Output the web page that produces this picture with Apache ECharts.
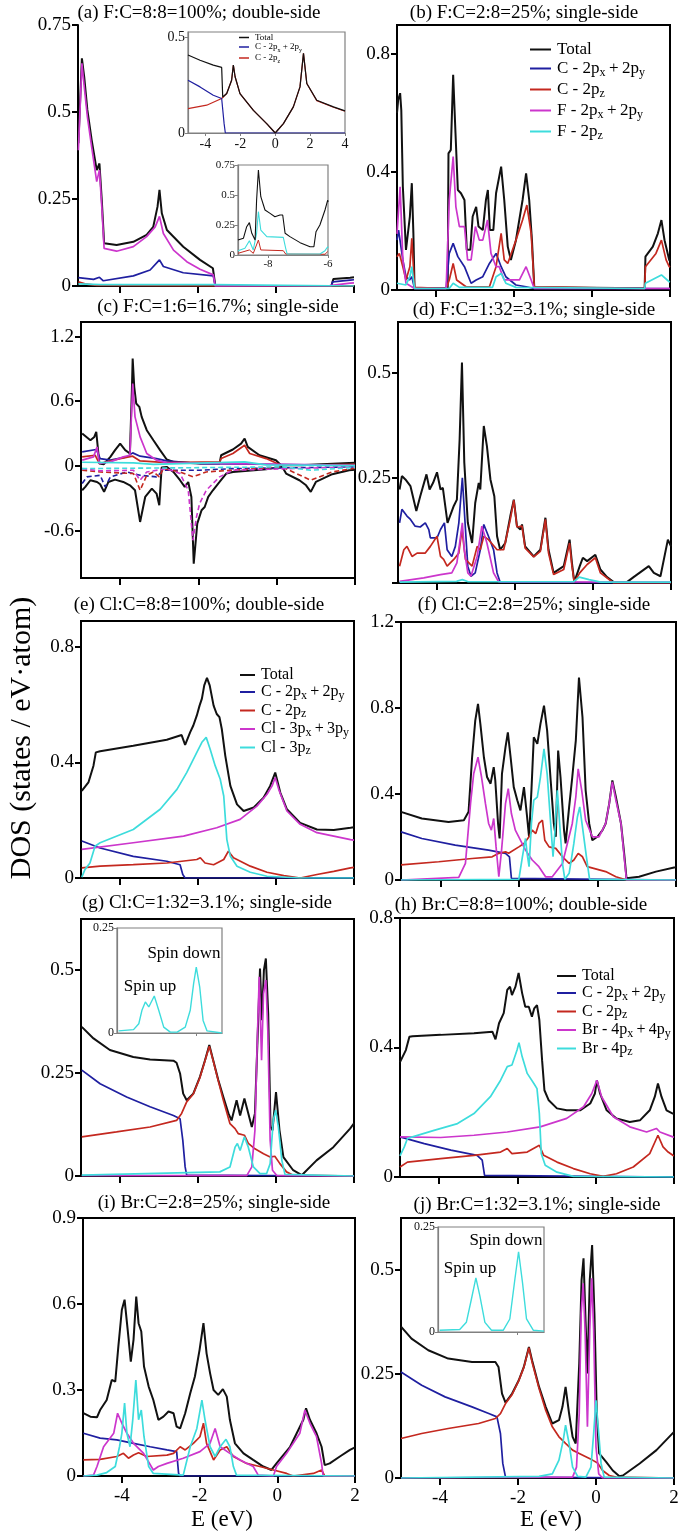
<!DOCTYPE html>
<html><head><meta charset="utf-8">
<script src="https://cdn.jsdelivr.net/npm/echarts@6/dist/echarts.min.js"></script>
<style>html,body{margin:0;padding:0;background:#fff}#c{width:685px;height:1537px}</style>
</head><body><div id="c"></div>
<script>
// ---------------- data ----------------
const TITLES = ['(a) F:C=8:8=100%; double-side','(b) F:C=2:8=25%; single-side','(c) F:C=1:6=16.7%; single-side','(d) F:C=1:32=3.1%; single-side','(e) Cl:C=8:8=100%; double-side','(f) Cl:C=2:8=25%; single-side','(g) Cl:C=1:32=3.1%; single-side','(h) Br:C=8:8=100%; double-side','(i) Br:C=2:8=25%; single-side','(j) Br:C=1:32=3.1%; single-side'];
const Y_TITLE = 'DOS (states / eV\u00B7atom)';
const X_TITLE = 'E (eV)';
const SPIN_UP = 'Spin up', SPIN_DOWN = 'Spin down';
const X_TICKS = [-4,-2,0,2];
const A_YT = [0,0.25,0.5,0.75];
const B_YT = [0,0.4,0.8];
const C_YT = [-0.6,0,0.6,1.2];
const D_YT = [0,0.25,0.5], D_YL = [0.25,0.5];
const E_YT = [0,0.4,0.8];
const F_YT = [0,0.4,0.8,1.2];
const G_YT = [0,0.25,0.5];
const H_YT = [0,0.4,0.8];
const I_YT = [0,0.3,0.6,0.9];
const J_YT = [0,0.25,0.5];
const A1_XT = [-4,-2,0,2,4], A1_YT = [0,0.5];
const A2_XT = [-8,-6], A2_YT = [0,0.25,0.5,0.75];
const IN_YT = [0,0.25], IN_XT = [0];
const LEG_B = ['Total','C - 2p_x\u2009+\u20092p_y','C - 2p_z','F - 2p_x\u2009+\u20092p_y','F - 2p_z'];
const LEG_E = ['Total','C - 2p_x\u2009+\u20092p_y','C - 2p_z','Cl - 3p_x\u2009+\u20093p_y','Cl - 3p_z'];
const LEG_H = ['Total','C - 2p_x\u2009+\u20092p_y','C - 2p_z','Br - 4p_x\u2009+\u20094p_y','Br - 4p_z'];
const LEG_A1 = ['Total','C - 2p_x + 2p_y','C - 2p_z'];

// (a)
const a_tot=[[-5.07,0.41],[-4.98,0.654],[-4.92,0.60],[-4.84,0.506],[-4.73,0.42],[-4.60,0.333],[-4.53,0.352],[-4.47,0.247],[-4.41,0.123],[-4.09,0.118],[-3.66,0.127],[-3.32,0.147],[-3.15,0.17],[-3.04,0.228],[-2.99,0.276],[-2.93,0.209],[-2.80,0.161],[-2.38,0.113],[-1.95,0.075],[-1.62,0.051],[-1.56,0.003],[-1.44,0],[1.42,0],[1.47,0.02],[1.9,0.024],[2.0,0.025]];
const a_blue=[[-5.07,0.024],[-4.68,0.019],[-4.53,0.025],[-4.43,0.015],[-3.66,0.029],[-3.23,0.046],[-2.99,0.075],[-2.89,0.056],[-2.38,0.038],[-1.61,0.029],[-1.56,0],[1.42,0],[1.45,0.012],[1.9,0.017],[2.0,0.018]];
const a_red=[[-5.07,0.012],[-4.9,0.006],[-4.6,0.002],[-1.55,0],[2.0,0]];
const a_mag=[[-5.07,0.39],[-4.98,0.64],[-4.92,0.573],[-4.84,0.487],[-4.73,0.40],[-4.60,0.30],[-4.53,0.333],[-4.47,0.228],[-4.41,0.108],[-4.09,0.10],[-3.66,0.113],[-3.32,0.142],[-3.10,0.17],[-2.99,0.20],[-2.89,0.151],[-2.63,0.103],[-2.29,0.07],[-1.95,0.048],[-1.61,0.032],[-1.56,0],[1.38,0.001],[1.9,0.008],[2.0,0.009]];
const a_cyan=[[-5.07,0.006],[-4.5,0.004],[-1.6,0.004],[-1.55,0],[2.0,0]];
// (a) insets
const a1_tot=[[-5,0.409],[-4.31,0.382],[-3.55,0.356],[-3.07,0.344],[-3.01,0.189],[-2.78,0.207],[-2.5,0.277],[-2.4,0.356],[-2.3,0.295],[-2.02,0.207],[-1.25,0.119],[-0.49,0.049],[0,0],[0.47,0.049],[1.04,0.137],[1.42,0.242],[1.62,0.418],[1.81,0.26],[2.38,0.172],[3.34,0.137],[4,0.116]];
const a1_blue=[[-5,0.277],[-4.31,0.242],[-3.55,0.198],[-3.07,0.181],[-2.93,0.049],[-2.86,0],[4,0]];
const a1_red=[[-5,0.128],[-3.93,0.146],[-3.07,0.181],[-2.78,0.207],[-2.5,0.277],[-2.4,0.356],[-2.3,0.295],[-2.02,0.207],[-1.25,0.119],[-0.49,0.049],[0,0],[0.47,0.049],[1.04,0.137],[1.42,0.242],[1.62,0.418],[1.81,0.26],[2.38,0.17],[3.34,0.135],[4,0.114]];
const a2_tot=[[-9,0.125],[-8.82,0.139],[-8.71,0.236],[-8.62,0.27],[-8.54,0.181],[-8.43,0.125],[-8.38,0.458],[-8.32,0.708],[-8.24,0.486],[-8.10,0.375],[-7.93,0.347],[-7.77,0.319],[-7.60,0.333],[-7.51,0.333],[-7.43,0.181],[-7.27,0.153],[-6.93,0.103],[-6.60,0.069],[-6.47,0.069],[-6.40,0.194],[-6.27,0.25],[-6.10,0.375],[-6.01,0.458],[-6.0,0.44]];
const a2_cyan=[[-9,0.036],[-8.77,0.056],[-8.62,0.119],[-8.49,0.042],[-8.38,0.181],[-8.32,0.361],[-8.24,0.208],[-8.04,0.153],[-7.49,0.147],[-7.41,0.056],[-7.36,0.008],[-6.27,0.008],[-6.10,0.036],[-6.01,0.069],[-6.0,0.06]];
const a2_red=[[-9,0.014],[-8.62,0.042],[-8.49,0.014],[-8.32,0.125],[-8.24,0.042],[-7.49,0.036],[-7.41,0.008],[-6.10,0.006],[-6.01,0.028],[-6.0,0.026]];
// (b)
const b_tot=[[-5.0,0.6],[-4.97,0.644],[-4.92,0.667],[-4.89,0.61],[-4.85,0.35],[-4.77,0.136],[-4.72,0.13],[-4.67,0.249],[-4.62,0.362],[-4.58,0.192],[-4.55,0.006],[-3.70,0.006],[-3.68,0.463],[-3.62,0.475],[-3.56,0.729],[-3.50,0.531],[-3.44,0.339],[-3.36,0.328],[-3.27,0.305],[-3.21,0.136],[-3.12,0.136],[-3.06,0.249],[-2.97,0.282],[-2.91,0.215],[-2.80,0.203],[-2.72,0.305],[-2.67,0.339],[-2.62,0.203],[-2.53,0.203],[-2.46,0.328],[-2.33,0.418],[-2.25,0.305],[-2.16,0.147],[-2.08,0.102],[-1.95,0.169],[-1.78,0.305],[-1.69,0.395],[-1.61,0.305],[-1.54,0.169],[-1.48,0.009],[-1.44,0.006],[1.35,0.006],[1.37,0.113],[1.56,0.147],[1.69,0.192],[1.78,0.237],[1.86,0.169],[1.98,0.102],[2.0,0.098]];
const b_blue=[[-5.0,0.169],[-4.96,0.203],[-4.85,0.102],[-4.77,0.045],[-4.68,0.034],[-4.62,0.045],[-4.55,0.005],[-3.74,0.005],[-3.66,0.124],[-3.56,0.158],[-3.44,0.113],[-3.27,0.079],[-3.10,0.023],[-2.97,0.034],[-2.80,0.045],[-2.63,0.09],[-2.46,0.124],[-2.33,0.079],[-2.21,0.045],[-1.95,0.017],[-1.69,0.011],[-1.48,0.005],[2.0,0.005]];
const b_red=[[-5.0,0.113],[-4.94,0.124],[-4.85,0.079],[-4.77,0.034],[-4.67,0.079],[-4.62,0.175],[-4.55,0.009],[-3.74,0.005],[-3.66,0.034],[-3.56,0.09],[-3.47,0.034],[-3.23,0.011],[-2.63,0.011],[-2.46,0.079],[-2.33,0.192],[-2.25,0.102],[-2.16,0.09],[-1.95,0.169],[-1.78,0.237],[-1.67,0.288],[-1.56,0.192],[-1.48,0.011],[1.35,0.005],[1.37,0.079],[1.64,0.124],[1.78,0.169],[1.90,0.102],[1.98,0.079],[2.0,0.077]];
const b_mag=[[-5.0,0.19],[-4.92,0.35],[-4.85,0.102],[-4.77,0.023],[-4.55,0.005],[-3.74,0.005],[-3.66,0.305],[-3.56,0.452],[-3.49,0.282],[-3.40,0.215],[-3.27,0.215],[-3.19,0.102],[-3.10,0.102],[-2.99,0.215],[-2.89,0.169],[-2.80,0.169],[-2.68,0.237],[-2.59,0.124],[-2.46,0.079],[-2.38,0.079],[-2.25,0.034],[-1.86,0.034],[-1.69,0.079],[-1.56,0.034],[-1.48,0.005],[2.0,0.005]];
const b_cyan=[[-5.0,0.023],[-4.77,0.017],[-4.67,0.045],[-4.62,0.079],[-4.55,0.005],[-3.66,0.005],[-3.56,0.023],[-3.40,0.009],[-2.55,0.009],[-2.46,0.045],[-2.33,0.056],[-2.21,0.023],[-1.95,0.009],[1.35,0.005],[1.37,0.023],[1.78,0.051],[1.98,0.028],[2.0,0.027]];
// (c) spin up (solid) and spin down (dashed)
const c_tot_up=[[-4.97,0.30],[-4.76,0.238],[-4.66,0.269],[-4.61,0.316],[-4.53,0.022],[-4.42,0.015],[-4.25,0.084],[-4.13,0.146],[-4.0,0.207],[-3.87,0.146],[-3.75,0.115],[-3.70,0.703],[-3.68,0.997],[-3.64,0.734],[-3.59,0.579],[-3.51,0.548],[-3.45,0.455],[-3.41,0.471],[-3.32,0.331],[-3.15,0.238],[-2.98,0.146],[-2.81,0.059],[-2.64,0.037],[-1.97,0.022],[-1.46,0.022],[-1.42,0.099],[-1.12,0.152],[-0.91,0.207],[-0.82,0.254],[-0.74,0.176],[-0.44,0.099],[-0.02,0.053],[0.11,0.006],[0.58,0.006],[1.85,0.028],[2.0,0.03]];
const c_blue_up=[[-4.97,0.13],[-4.61,0.152],[-4.51,0.068],[-4.25,0.053],[-3.83,0.084],[-3.68,0.121],[-3.49,0.09],[-3.07,0.068],[-2.81,0.046],[-1.97,0.022],[2.0,0.006]];
const c_red_up=[[-4.97,0.084],[-4.64,0.099],[-4.53,0.022],[-4.0,0.068],[-3.68,0.09],[-3.49,0.046],[-2.81,0.031],[-1.46,0.037],[-1.42,0.068],[-1.12,0.115],[-0.82,0.192],[-0.69,0.115],[-0.27,0.068],[0.11,0.006],[2.0,0.015]];
const c_mag_up=[[-4.97,0.053],[-4.68,0.084],[-4.59,0.176],[-4.53,0.022],[-4.25,0.037],[-3.92,0.084],[-3.75,0.099],[-3.68,0.765],[-3.62,0.455],[-3.49,0.269],[-3.32,0.115],[-3.07,0.053],[-2.81,0.028],[2.0,0.006]];
const c_cyan_up=[[-4.97,0.034],[-3.66,0.028],[-3.15,0.015],[-0.82,0.037],[-0.27,0.009],[2.0,0.003]];
const c_tot_dn=[[-4.97,-0.226],[-4.89,-0.195],[-4.76,-0.133],[-4.59,-0.149],[-4.51,-0.170],[-4.41,-0.241],[-4.30,-0.149],[-4.13,-0.127],[-3.92,-0.149],[-3.75,-0.18],[-3.62,-0.226],[-3.49,-0.52],[-3.36,-0.288],[-3.19,-0.211],[-3.07,-0.257],[-3.0,-0.365],[-2.94,-0.015],[-2.81,-0.009],[-2.64,-0.056],[-2.47,-0.133],[-2.35,-0.195],[-2.26,-0.149],[-2.18,-0.288],[-2.12,-0.907],[-2.03,-0.536],[-1.92,-0.412],[-1.84,-0.381],[-1.75,-0.288],[-1.63,-0.226],[-1.46,-0.149],[-1.29,-0.071],[-1.12,-0.056],[-0.27,-0.031],[0.14,-0.009],[0.24,-0.071],[0.58,-0.133],[0.75,-0.18],[0.87,-0.241],[1.0,-0.149],[1.42,-0.077],[1.85,-0.04],[2.0,-0.036]];
const c_blue_dn=[[-4.97,-0.164],[-4.85,-0.102],[-4.51,-0.087],[-4.38,-0.195],[-4.25,-0.102],[-3.83,-0.056],[-3.49,-0.087],[-3.07,-0.102],[-2.90,-0.04],[-1.97,-0.04],[-1.12,-0.025],[2.0,-0.009]];
const c_red_dn=[[-4.97,-0.04],[-4.51,-0.056],[-3.66,-0.071],[-3.49,-0.226],[-3.32,-0.087],[-3.15,-0.056],[-3.0,-0.102],[-2.90,-0.025],[-2.47,-0.056],[-2.14,-0.102],[-1.80,-0.056],[-1.12,-0.04],[0.14,-0.009],[0.32,-0.04],[0.87,-0.133],[1.42,-0.056],[2.0,-0.022]];
const c_mag_dn=[[-4.97,-0.025],[-4.51,-0.046],[-3.66,-0.04],[-3.49,-0.133],[-3.32,-0.056],[-2.81,-0.025],[-2.47,-0.071],[-2.26,-0.226],[-2.14,-0.69],[-2.05,-0.474],[-1.97,-0.35],[-1.80,-0.226],[-1.46,-0.102],[-1.12,-0.04],[2.0,-0.009]];
const c_cyan_dn=[[-4.97,-0.025],[-2.81,-0.019],[0.15,-0.009],[0.87,-0.04],[2.0,-0.015]];
// (d)
const d_tot=[[-4.96,0.222],[-4.90,0.254],[-4.81,0.246],[-4.68,0.230],[-4.53,0.171],[-4.43,0.206],[-4.27,0.258],[-4.19,0.222],[-4.10,0.238],[-4.0,0.263],[-3.91,0.222],[-3.85,0.226],[-3.81,0.198],[-3.73,0.143],[-3.57,0.183],[-3.49,0.198],[-3.42,0.341],[-3.36,0.524],[-3.30,0.286],[-3.21,0.143],[-3.10,0.095],[-3.02,0.19],[-2.93,0.238],[-2.89,0.222],[-2.80,0.373],[-2.72,0.325],[-2.63,0.246],[-2.53,0.206],[-2.46,0.111],[-2.38,0.079],[-2.25,0.095],[-2.12,0.159],[-2.03,0.198],[-1.95,0.135],[-1.86,0.127],[-1.82,0.139],[-1.74,0.087],[-1.52,0.063],[-1.35,0.079],[-1.22,0.155],[-1.14,0.079],[-1.01,0.024],[-0.75,0.04],[-0.60,0.103],[-0.54,0.048],[-0.48,0.002],[-0.34,0.04],[-0.26,0.06],[-0.15,0.052],[0.06,0.067],[0.19,0.032],[0.36,0.014],[0.53,0.002],[0.87,0.002],[1.04,0.014],[1.43,0.04],[1.56,0.024],[1.73,0.016],[1.92,0.103],[2.0,0.087]];
const d_blue=[[-4.96,0.143],[-4.90,0.175],[-4.77,0.159],[-4.68,0.151],[-4.56,0.135],[-4.43,0.133],[-4.30,0.143],[-4.21,0.127],[-4.17,0.107],[-4.0,0.107],[-3.91,0.127],[-3.81,0.143],[-3.74,0.079],[-3.62,0.063],[-3.53,0.087],[-3.44,0.143],[-3.35,0.25],[-3.27,0.127],[-3.21,0.04],[-3.13,0.016],[-3.02,0.024],[-2.89,0.079],[-2.80,0.139],[-2.68,0.111],[-2.55,0.079],[-2.46,0.024],[-2.38,0.002],[2.0,0]];
const d_red=[[-4.96,0.04],[-4.85,0.079],[-4.77,0.087],[-4.64,0.063],[-4.51,0.071],[-4.30,0.071],[-4.17,0.087],[-4.0,0.111],[-3.91,0.063],[-3.83,0.056],[-3.74,0.04],[-3.57,0.056],[-3.44,0.071],[-3.36,0.127],[-3.27,0.056],[-3.10,0.04],[-2.97,0.087],[-2.89,0.079],[-2.80,0.111],[-2.68,0.103],[-2.46,0.079],[-2.29,0.079],[-2.12,0.151],[-2.03,0.197],[-1.95,0.133],[-1.82,0.135],[-1.74,0.083],[-1.52,0.062],[-1.35,0.075],[-1.22,0.151],[-1.14,0.071],[-1.01,0.02],[-0.75,0.032],[-0.60,0.095],[-0.54,0.04],[-0.48,0.002],[-0.34,0.024],[-0.15,0.044],[0.06,0.06],[0.19,0.024],[0.53,0],[2.0,0]];
const d_mag=[[-4.96,0.004],[-4.34,0.012],[-3.91,0.02],[-3.62,0.024],[-3.49,0.048],[-3.42,0.095],[-3.35,0.143],[-3.30,0.079],[-3.21,0.024],[-3.13,0.016],[-2.97,0.063],[-2.85,0.135],[-2.72,0.095],[-2.55,0.024],[-2.42,0.003],[2.0,0.002]];
const d_cyan=[[-4.96,0.002],[-3.5,0.004],[-3.35,0.008],[-3.2,0.003],[-0.5,0.003],[-0.35,0.014],[-0.1,0.008],[0.2,0.002],[2.0,0.002]];
// (e)
const e_tot=[[-4.98,0.302],[-4.81,0.331],[-4.68,0.389],[-4.62,0.435],[-4.51,0.439],[-3.66,0.458],[-2.80,0.479],[-2.42,0.495],[-2.33,0.461],[-2.20,0.505],[-2.12,0.528],[-2.03,0.563],[-1.96,0.597],[-1.90,0.621],[-1.84,0.667],[-1.77,0.693],[-1.70,0.667],[-1.60,0.597],[-1.52,0.568],[-1.45,0.557],[-1.39,0.516],[-1.30,0.423],[-1.17,0.319],[-1.0,0.255],[-0.83,0.232],[-0.57,0.244],[-0.32,0.278],[-0.15,0.319],[-0.02,0.365],[0.11,0.296],[0.28,0.238],[0.62,0.191],[1.05,0.168],[1.48,0.166],[1.91,0.174],[2.0,0.176]];
const e_blue=[[-4.98,0.128],[-4.51,0.104],[-3.66,0.075],[-2.80,0.058],[-2.46,0.046],[-2.39,0.012],[-2.33,0],[2.0,0]];
const e_red=[[-4.98,0.035],[-4.51,0.041],[-3.66,0.046],[-2.80,0.052],[-2.03,0.064],[-1.94,0.07],[-1.82,0.052],[-1.60,0.046],[-1.34,0.064],[-1.22,0.093],[-1.09,0.07],[-0.66,0.041],[-0.23,0.02],[0.20,0.008],[0.62,0],[1.05,0.012],[1.48,0.023],[1.91,0.035],[2.0,0.037]];
const e_mag=[[-4.98,0.099],[-3.66,0.122],[-2.37,0.145],[-1.52,0.174],[-0.92,0.203],[-0.49,0.249],[-0.23,0.29],[-0.10,0.319],[-0.02,0.348],[0.07,0.307],[0.28,0.232],[0.62,0.186],[1.05,0.157],[1.91,0.133],[2.0,0.131]];
const e_cyan=[[-4.98,0.003],[-4.90,0.029],[-4.77,0.052],[-4.64,0.11],[-4.51,0.122],[-3.66,0.168],[-2.97,0.238],[-2.54,0.307],[-2.29,0.365],[-2.03,0.435],[-1.90,0.47],[-1.79,0.487],[-1.69,0.447],[-1.56,0.389],[-1.43,0.342],[-1.34,0.284],[-1.26,0.133],[-1.17,0.075],[-1.0,0.041],[-0.66,0.02],[-0.23,0.006],[0.62,0],[2.0,0]];
// (f)
const f_tot=[[-5.0,0.317],[-4.47,0.286],[-3.79,0.27],[-3.40,0.278],[-3.28,0.317],[-3.19,0.571],[-3.11,0.741],[-3.04,0.819],[-2.98,0.726],[-2.89,0.571],[-2.81,0.479],[-2.72,0.448],[-2.64,0.525],[-2.60,0.463],[-2.53,0.263],[-2.49,0.193],[-2.43,0.494],[-2.34,0.618],[-2.28,0.687],[-2.21,0.571],[-2.13,0.432],[-2.04,0.371],[-1.96,0.324],[-1.87,0.432],[-1.83,0.44],[-1.79,0.293],[-1.74,0.201],[-1.68,0.417],[-1.62,0.664],[-1.53,0.633],[-1.45,0.726],[-1.36,0.811],[-1.28,0.695],[-1.19,0.463],[-1.11,0.263],[-1.06,0.201],[-1.0,0.602],[-0.94,0.479],[-0.85,0.232],[-0.81,0.17],[-0.72,0.34],[-0.64,0.479],[-0.55,0.649],[-0.47,0.942],[-0.38,0.757],[-0.30,0.417],[-0.21,0.263],[-0.13,0.185],[0.0,0.201],[0.13,0.232],[0.21,0.263],[0.30,0.355],[0.38,0.463],[0.47,0.386],[0.60,0.263],[0.68,0.124],[0.74,0.008],[1.06,0.015],[1.49,0.039],[1.98,0.059],[2.0,0.06]];
const f_blue=[[-5.0,0.224],[-4.47,0.193],[-3.62,0.162],[-2.77,0.139],[-2.34,0.124],[-2.24,0.108],[-2.19,0.008],[-2.15,0],[2.0,0]];
const f_red=[[-5.0,0.07],[-4.04,0.085],[-3.19,0.1],[-2.68,0.108],[-2.51,0.124],[-2.34,0.131],[-2.26,0.124],[-2.0,0.154],[-1.87,0.17],[-1.74,0.201],[-1.66,0.232],[-1.57,0.216],[-1.49,0.263],[-1.40,0.278],[-1.34,0.185],[-1.23,0.154],[-1.06,0.147],[-0.89,0.108],[-0.72,0.077],[-0.60,0.093],[-0.49,0.124],[-0.38,0.108],[-0.26,0.062],[0.21,0.039],[0.47,0.015],[0.74,0],[2.0,0]];
const f_mag=[[-5.0,0],[-3.53,0.012],[-3.36,0.077],[-3.23,0.355],[-3.15,0.494],[-3.04,0.571],[-2.95,0.479],[-2.85,0.355],[-2.77,0.263],[-2.70,0.232],[-2.64,0.286],[-2.58,0.154],[-2.51,0.015],[-2.44,0.139],[-2.34,0.355],[-2.27,0.425],[-2.19,0.309],[-2.09,0.232],[-1.96,0.185],[-1.83,0.139],[-1.66,0.093],[-1.49,0.062],[-1.32,0.015],[-1.15,0.015],[-0.89,0.077],[-0.64,0.263],[-0.55,0.386],[-0.49,0.517],[-0.40,0.417],[-0.30,0.278],[-0.13,0.201],[0.04,0.201],[0.21,0.263],[0.30,0.355],[0.38,0.456],[0.47,0.371],[0.60,0.263],[0.68,0.108],[0.74,0],[2.0,0]];
const f_cyan=[[-5.0,0],[-2.0,0.003],[-1.91,0.108],[-1.83,0.193],[-1.79,0.124],[-1.74,0.062],[-1.68,0.263],[-1.62,0.371],[-1.53,0.386],[-1.45,0.479],[-1.36,0.61],[-1.28,0.494],[-1.19,0.263],[-1.13,0.108],[-1.08,0.232],[-1.02,0.417],[-0.95,0.232],[-0.89,0.077],[-0.83,0.003],[-0.72,0.031],[-0.60,0.17],[-0.51,0.293],[-0.45,0.34],[-0.37,0.232],[-0.28,0.108],[-0.20,0.003],[2.0,0]];
// (g)
const g_tot=[[-4.98,0.362],[-4.68,0.334],[-4.26,0.306],[-3.66,0.289],[-3.23,0.283],[-2.63,0.28],[-2.55,0.275],[-2.46,0.249],[-2.38,0.2],[-2.29,0.184],[-2.12,0.2],[-1.95,0.241],[-1.82,0.281],[-1.71,0.318],[-1.61,0.281],[-1.48,0.233],[-1.35,0.192],[-1.22,0.152],[-1.14,0.135],[-1.01,0.184],[-0.92,0.147],[-0.81,0.188],[-0.71,0.152],[-0.62,0.119],[-0.54,0.152],[-0.45,0.395],[-0.41,0.504],[-0.36,0.378],[-0.31,0.5],[-0.26,0.528],[-0.20,0.395],[-0.14,0.119],[-0.09,0.111],[0.0,0.204],[0.09,0.111],[0.19,0.046],[0.44,0.014],[0.66,0.002],[1.04,0.038],[1.47,0.07],[1.90,0.115],[2.0,0.128]];
const g_blue=[[-4.98,0.257],[-4.51,0.224],[-3.83,0.192],[-3.23,0.168],[-2.63,0.147],[-2.46,0.139],[-2.39,0.087],[-2.33,0.022],[-2.29,0.002],[2.0,0]];
const g_red=[[-4.98,0.095],[-4.09,0.107],[-3.23,0.119],[-2.55,0.135],[-2.42,0.152],[-2.29,0.18],[-2.12,0.199],[-1.95,0.239],[-1.82,0.28],[-1.71,0.315],[-1.61,0.28],[-1.48,0.231],[-1.35,0.184],[-1.18,0.127],[-1.05,0.115],[-0.97,0.103],[-0.81,0.099],[-0.71,0.079],[-0.54,0.066],[-0.32,0.054],[-0.15,0.046],[-0.03,0.048],[0.10,0.03],[0.27,0.01],[0.44,0.002],[2.0,0]];
const g_mag=[[-4.98,0.001],[-0.75,0.001],[-0.62,0.022],[-0.54,0.111],[-0.48,0.33],[-0.43,0.484],[-0.37,0.281],[-0.32,0.443],[-0.26,0.476],[-0.21,0.354],[-0.15,0.087],[-0.09,0.014],[0.02,0.001],[2.0,0]];
const g_cyan=[[-4.98,0.002],[-1.44,0.01],[-1.18,0.022],[-1.05,0.07],[-0.99,0.079],[-0.92,0.062],[-0.81,0.095],[-0.71,0.07],[-0.58,0.022],[-0.41,0.006],[-0.24,0.006],[-0.15,0.03],[-0.07,0.135],[-0.01,0.16],[0.06,0.119],[0.15,0.038],[0.23,0.004],[2.0,0]];
const g_in=[[-2.94,0.005],[-2.37,0.008],[-2.17,0.022],[-2.05,0.054],[-1.92,0.074],[-1.79,0.062],[-1.58,0.088],[-1.41,0.054],[-1.22,0.014],[-0.97,0.002],[-0.71,0.002],[-0.40,0.014],[-0.21,0.054],[-0.08,0.118],[0.02,0.157],[0.15,0.11],[0.28,0.03],[0.43,0.005],[1.0,0]];
// (h)
const h_tot=[[-5.0,0.355],[-4.85,0.392],[-4.76,0.433],[-4.68,0.435],[-3.96,0.439],[-3.11,0.444],[-2.64,0.449],[-2.56,0.425],[-2.47,0.475],[-2.35,0.506],[-2.26,0.578],[-2.19,0.588],[-2.14,0.562],[-2.05,0.588],[-1.97,0.63],[-1.88,0.568],[-1.80,0.526],[-1.71,0.526],[-1.63,0.495],[-1.57,0.521],[-1.50,0.531],[-1.44,0.485],[-1.37,0.361],[-1.31,0.268],[-1.20,0.237],[-0.99,0.212],[-0.74,0.206],[-0.40,0.206],[-0.14,0.227],[-0.02,0.258],[0.03,0.299],[0.11,0.258],[0.28,0.206],[0.53,0.181],[0.87,0.17],[1.13,0.175],[1.38,0.206],[1.51,0.248],[1.59,0.289],[1.68,0.248],[1.81,0.206],[1.97,0.196],[2.0,0.195]];
const h_blue=[[-5.0,0.124],[-4.38,0.103],[-3.70,0.083],[-3.03,0.067],[-2.90,0.052],[-2.84,0.005],[-2.8,0],[2.0,0]];
const h_red=[[-5.0,0.031],[-4.81,0.046],[-3.96,0.057],[-3.11,0.067],[-2.43,0.077],[-2.26,0.088],[-2.14,0.072],[-1.75,0.077],[-1.44,0.098],[-1.33,0.067],[-0.99,0.046],[-0.57,0.026],[-0.14,0.01],[0.19,0.002],[0.53,0.01],[0.96,0.031],[1.38,0.072],[1.59,0.129],[1.72,0.093],[1.85,0.077],[1.97,0.067],[2.0,0.066]];
const h_mag=[[-5.0,0.124],[-3.96,0.122],[-3.11,0.129],[-2.26,0.139],[-1.42,0.155],[-0.74,0.181],[-0.31,0.217],[-0.10,0.258],[0.03,0.299],[0.15,0.248],[0.45,0.186],[0.87,0.155],[1.30,0.139],[1.55,0.15],[1.64,0.139],[1.97,0.124],[2.0,0.123]];
const h_cyan=[[-5.0,0.065],[-4.89,0.093],[-4.81,0.119],[-4.68,0.124],[-4.13,0.144],[-3.53,0.165],[-3.11,0.196],[-2.69,0.248],[-2.43,0.299],[-2.26,0.341],[-2.14,0.346],[-2.01,0.392],[-1.96,0.415],[-1.88,0.372],[-1.75,0.32],[-1.58,0.289],[-1.50,0.273],[-1.44,0.196],[-1.39,0.072],[-1.29,0.036],[-0.99,0.015],[-0.57,0.002],[2.0,0]];
// (i)
const i_tot=[[-4.99,0.219],[-4.81,0.207],[-4.64,0.205],[-4.56,0.23],[-4.39,0.265],[-4.26,0.335],[-4.17,0.329],[-4.09,0.452],[-4.0,0.58],[-3.93,0.615],[-3.85,0.51],[-3.77,0.399],[-3.70,0.475],[-3.63,0.626],[-3.57,0.533],[-3.50,0.504],[-3.43,0.382],[-3.31,0.312],[-3.19,0.265],[-3.06,0.196],[-2.93,0.207],[-2.80,0.225],[-2.67,0.219],[-2.59,0.172],[-2.50,0.166],[-2.37,0.219],[-2.24,0.289],[-2.12,0.347],[-2.0,0.44],[-1.90,0.533],[-1.82,0.428],[-1.73,0.359],[-1.64,0.3],[-1.52,0.283],[-1.40,0.303],[-1.30,0.277],[-1.22,0.196],[-1.09,0.114],[-0.87,0.079],[-0.62,0.056],[-0.36,0.033],[-0.15,0.021],[-0.02,0.044],[0.33,0.102],[0.67,0.196],[0.74,0.236],[0.84,0.196],[1.01,0.149],[1.14,0.102],[1.22,0.038],[1.35,0.044],[1.61,0.068],[1.87,0.091],[2.0,0.1]];
const i_blue=[[-4.99,0.149],[-4.56,0.132],[-4.13,0.126],[-3.70,0.114],[-3.27,0.102],[-2.84,0.091],[-2.59,0.085],[-2.54,0.009],[-2.50,0],[2.0,0]];
const i_red=[[-4.99,0.056],[-4.56,0.058],[-4.13,0.068],[-3.96,0.079],[-3.83,0.062],[-3.70,0.073],[-3.57,0.081],[-3.36,0.068],[-2.84,0.073],[-2.67,0.079],[-2.50,0.102],[-2.37,0.091],[-2.16,0.114],[-1.99,0.137],[-1.90,0.184],[-1.82,0.114],[-1.64,0.056],[-1.47,0.091],[-1.30,0.102],[-1.13,0.068],[-0.79,0.044],[-0.45,0.033],[-0.10,0.021],[0.24,0.009],[0.41,0],[0.93,0.009],[1.14,0.021],[1.22,0],[2.0,0]];
const i_mag=[[-4.99,0],[-4.73,0.003],[-4.64,0.033],[-4.47,0.102],[-4.21,0.149],[-4.11,0.219],[-4.0,0.184],[-3.87,0.149],[-3.70,0.114],[-3.44,0.079],[-3.19,0.021],[-3.06,0.033],[-2.84,0.044],[-2.42,0.062],[-1.99,0.085],[-1.73,0.114],[-1.60,0.166],[-1.47,0.102],[-1.22,0.079],[-0.96,0.056],[-0.62,0.033],[-0.49,0.003],[-0.10,0],[-0.02,0.033],[0.24,0.079],[0.58,0.149],[0.71,0.23],[0.84,0.184],[1.01,0.137],[1.14,0.044],[1.18,0],[2.0,0]];
const i_cyan=[[-4.99,0],[-4.64,0.003],[-4.39,0.012],[-4.17,0.033],[-4.06,0.102],[-4.0,0.149],[-3.93,0.254],[-3.87,0.149],[-3.79,0.102],[-3.72,0.196],[-3.64,0.335],[-3.57,0.196],[-3.50,0.23],[-3.43,0.137],[-3.31,0.033],[-3.19,0.009],[-2.42,0.003],[-2.24,0.102],[-2.07,0.166],[-1.94,0.265],[-1.86,0.196],[-1.73,0.102],[-1.60,0.068],[-1.47,0.102],[-1.32,0.128],[-1.22,0.102],[-1.13,0.033],[-1.05,0.003],[2.0,0]];
// (j)
const j_tot=[[-5.0,0.364],[-4.73,0.335],[-4.30,0.307],[-3.79,0.287],[-3.18,0.279],[-2.58,0.279],[-2.50,0.267],[-2.41,0.203],[-2.32,0.181],[-2.15,0.203],[-1.98,0.235],[-1.85,0.267],[-1.72,0.315],[-1.64,0.283],[-1.46,0.219],[-1.29,0.171],[-1.12,0.131],[-0.95,0.139],[-0.86,0.171],[-0.78,0.219],[-0.69,0.155],[-0.60,0.099],[-0.52,0.083],[-0.43,0.275],[-0.37,0.476],[-0.32,0.528],[-0.26,0.356],[-0.22,0.251],[-0.16,0.476],[-0.10,0.56],[-0.04,0.396],[0.02,0.155],[0.08,0.059],[0.26,0.039],[0.43,0.018],[0.60,0.004],[0.69,0.006],[1.12,0.035],[1.55,0.067],[2.0,0.111]];
const j_blue=[[-5.0,0.255],[-4.47,0.223],[-3.87,0.195],[-3.18,0.171],[-2.75,0.155],[-2.54,0.147],[-2.45,0.107],[-2.39,0.035],[-2.32,0.002],[2.0,0]];
const j_red=[[-5.0,0.095],[-4.47,0.107],[-3.79,0.119],[-3.01,0.131],[-2.58,0.143],[-2.45,0.155],[-2.32,0.179],[-2.15,0.201],[-1.98,0.234],[-1.85,0.266],[-1.72,0.313],[-1.64,0.279],[-1.46,0.215],[-1.29,0.163],[-1.12,0.123],[-0.95,0.099],[-0.78,0.083],[-0.60,0.067],[-0.43,0.059],[-0.26,0.051],[-0.09,0.043],[0.04,0.036],[0.17,0.018],[0.34,0.006],[0.51,0.002],[2.0,0]];
const j_mag=[[-5.0,0],[-0.60,0.002],[-0.50,0.026],[-0.43,0.155],[-0.38,0.396],[-0.33,0.468],[-0.28,0.356],[-0.22,0.123],[-0.16,0.356],[-0.11,0.48],[-0.06,0.356],[0.0,0.075],[0.07,0.01],[0.17,0],[2.0,0]];
const j_cyan=[[-5.0,0],[-1.46,0.004],[-1.12,0.01],[-0.95,0.043],[-0.84,0.091],[-0.78,0.127],[-0.69,0.083],[-0.60,0.026],[-0.47,0.004],[-0.26,0.002],[-0.13,0.026],[-0.06,0.107],[0.0,0.187],[0.07,0.107],[0.13,0.035],[0.21,0.002],[2.0,0]];
const j_in=[[-2.94,0.004],[-2.18,0.006],[-1.93,0.023],[-1.74,0.078],[-1.57,0.129],[-1.42,0.086],[-1.23,0.023],[-0.98,0.004],[-0.54,0.004],[-0.29,0.031],[-0.10,0.125],[0.04,0.191],[0.19,0.117],[0.34,0.031],[0.60,0.004],[1.0,0.002]];

// ---------------- styling ----------------
const FONT = '"Liberation Serif","Times New Roman",serif';
const BLACK='#111111', BLUE='#1f1fa0', RED='#c4281f', MAG='#cc36cc', CYAN='#3ddcdc';

const P = [
 {l:78, t:25,  w:276,h:261,x0:-5.08,y0:0,y1:0.75, yt:A_YT,yl:A_YT,box:false},
 {l:397,t:25,  w:273,h:265,x0:-5,y0:0,y1:0.898,yt:B_YT,yl:B_YT,box:true},
 {l:81, t:322, w:274,h:256,x0:-5,y0:-1.04,y1:1.335,yt:C_YT,yl:C_YT,box:true},
 {l:398,t:322, w:273,h:261,x0:-5,y0:0,y1:0.62, yt:D_YT,yl:D_YL,box:true},
 {l:81, t:621, w:273,h:257,x0:-5,y0:0,y1:0.89, yt:E_YT,yl:E_YT,box:true},
 {l:401,t:622, w:275,h:258,x0:-5,y0:0,y1:1.2,  yt:F_YT,yl:F_YT,box:true},
 {l:81, t:919, w:273,h:257,x0:-5,y0:0,y1:0.624,yt:G_YT,yl:G_YT,box:true},
 {l:400,t:918, w:274,h:259,x0:-5,y0:0,y1:0.8,  yt:H_YT,yl:H_YT,box:true},
 {l:83, t:1218,w:272,h:258,x0:-5,y0:0,y1:0.9,  yt:I_YT,yl:I_YT,box:true,xl:true},
 {l:401,t:1218,w:273,h:260,x0:-5,y0:0,y1:0.625,yt:J_YT,yl:J_YT,box:true,xl:true}
];
const INS = [
 {l:188,t:32, w:157,h:101,x0:-5,x1:4,y0:0,y1:0.53,xt:A1_XT,xl:A1_XT,yt:A1_YT,yl:A1_YT,fs:14},
 {l:238,t:165,w:90, h:90, x0:-9,x1:-6,y0:0,y1:0.75,xt:A2_XT,xl:A2_XT,yt:A2_YT,yl:A2_YT,fs:11},
 {l:117,t:928,w:105,h:105,x0:-3,x1:1,y0:0,y1:0.25,xt:IN_XT,xl:null,yt:IN_YT,yl:IN_YT,fs:12},
 {l:438,t:1227,w:106,h:105,x0:-3,x1:1,y0:0,y1:0.25,xt:IN_XT,xl:null,yt:IN_YT,yl:IN_YT,fs:12}
];

const grids=[], xAxes=[], yAxes=[];
P.forEach((p,i)=>{
  grids.push({left:p.l,top:p.t,width:p.w,height:p.h,show:p.box,borderColor:'#000',borderWidth:2,backgroundColor:'transparent'});
  xAxes.push({gridIndex:i,type:'value',min:p.x0,max:2,
    axisLine:{show:true,onZero:false,lineStyle:{color:'#000',width:2}},
    axisTick:{show:true,inside:false,length:7,customValues:X_TICKS,lineStyle:{color:'#000',width:2}},
    axisLabel:{show:!!p.xl,customValues:X_TICKS,margin:11,color:'#000',fontFamily:FONT,fontSize:19},
    splitLine:{show:false}});
  yAxes.push({gridIndex:i,type:'value',min:p.y0,max:p.y1,
    axisLine:{show:true,onZero:false,lineStyle:{color:'#000',width:2}},
    axisTick:{show:true,inside:false,length:6,customValues:p.yt,lineStyle:{color:'#000',width:2}},
    axisLabel:{show:true,customValues:p.yl,margin:7,color:'#000',fontFamily:FONT,fontSize:19,formatter:v=>String(v)},
    splitLine:{show:false}});
});
INS.forEach((p,k)=>{
  const i = P.length+k;
  grids.push({left:p.l,top:p.t,width:p.w,height:p.h,show:true,borderColor:'#808080',borderWidth:1.2,backgroundColor:'#fff',z:3});
  xAxes.push({gridIndex:i,type:'value',min:p.x0,max:p.x1,z:4,
    axisLine:{show:true,onZero:false,lineStyle:{color:'#808080',width:1.2}},
    axisTick:{show:true,length:3,customValues:p.xt,lineStyle:{color:'#808080'}},
    axisLabel:{show:!!p.xl,customValues:p.xl||[],margin:4,color:'#111',fontFamily:FONT,fontSize:p.fs},
    splitLine:{show:false}});
  yAxes.push({gridIndex:i,type:'value',min:p.y0,max:p.y1,z:4,
    axisLine:{show:true,onZero:false,lineStyle:{color:'#808080',width:1.2}},
    axisTick:{show:true,length:3,customValues:p.yt,lineStyle:{color:'#808080'}},
    axisLabel:{show:true,customValues:p.yl,margin:3,color:'#111',fontFamily:FONT,fontSize:p.fs,formatter:v=>String(v)},
    splitLine:{show:false}});
});

const series=[];
function L(g,data,color,name,w,dashed,z){
  series.push({type:'line',name:name||('s'+series.length),xAxisIndex:g,yAxisIndex:g,data:data,
    symbol:'none',showSymbol:false,silent:true,animation:false,clip:true,z:z||2,
    lineStyle:{color:color,width:w||(color===BLACK?2:1.7),type:dashed?[5,3]:'solid'},itemStyle:{color:color}});
}
L(0,a_tot,BLACK); L(0,a_blue,BLUE); L(0,a_red,RED); L(0,a_mag,MAG); L(0,a_cyan,CYAN);
L(1,b_tot,BLACK,'b0'); L(1,b_blue,BLUE,'b1'); L(1,b_red,RED,'b2'); L(1,b_mag,MAG,'b3'); L(1,b_cyan,CYAN,'b4');
L(2,c_tot_up,BLACK); L(2,c_tot_dn,BLACK);
L(2,c_blue_dn,BLUE,null,1.6,true); L(2,c_red_dn,RED,null,1.6,true); L(2,c_mag_dn,MAG,null,1.6,true); L(2,c_cyan_dn,CYAN,null,1.6,true);
L(2,c_blue_up,BLUE); L(2,c_red_up,RED); L(2,c_mag_up,MAG); L(2,c_cyan_up,CYAN);
L(3,d_tot,BLACK); L(3,d_blue,BLUE); L(3,d_red,RED); L(3,d_mag,MAG); L(3,d_cyan,CYAN);
L(4,e_tot,BLACK,'e0'); L(4,e_blue,BLUE,'e1'); L(4,e_red,RED,'e2'); L(4,e_mag,MAG,'e3'); L(4,e_cyan,CYAN,'e4');
L(5,f_tot,BLACK); L(5,f_blue,BLUE); L(5,f_red,RED); L(5,f_mag,MAG); L(5,f_cyan,CYAN);
L(6,g_tot,BLACK); L(6,g_blue,BLUE); L(6,g_red,RED); L(6,g_mag,MAG); L(6,g_cyan,CYAN);
L(7,h_tot,BLACK,'h0'); L(7,h_blue,BLUE,'h1'); L(7,h_red,RED,'h2'); L(7,h_mag,MAG,'h3'); L(7,h_cyan,CYAN,'h4');
L(8,i_tot,BLACK); L(8,i_blue,BLUE); L(8,i_red,RED); L(8,i_mag,MAG); L(8,i_cyan,CYAN);
L(9,j_tot,BLACK); L(9,j_blue,BLUE); L(9,j_red,RED); L(9,j_mag,MAG); L(9,j_cyan,CYAN);
// insets
L(10,a1_red,RED,'a12',1.2,false,5); L(10,a1_blue,BLUE,'a11',1.2,false,5); L(10,a1_tot,BLACK,'a10',1.2,false,5);
L(11,a2_red,RED,null,1,false,5); L(11,a2_cyan,CYAN,null,1.1,false,5); L(11,a2_tot,BLACK,null,1.1,false,5);
L(12,g_in,CYAN,null,1.4,false,5);
L(13,j_in,CYAN,null,1.4,false,5);

function richify(s){ return '{n|'+s.replace(/p_([xyz])/g,'p}{s|$1}{n|')+'}'; }
function mkLegend(names,labels,left,top,fs,lh,gap,iw,ih){
  const map={}; names.forEach((n,i)=>map[n]=richify(labels[i]));
  return {data:names,orient:'vertical',left:left,top:top,padding:0,itemGap:gap,itemWidth:iw,itemHeight:ih||2,icon:'rect',
    selectedMode:false,z:6,formatter:n=>map[n],
    textStyle:{color:'#000',fontFamily:FONT,fontSize:fs,padding:[0,0,0,1],
      rich:{n:{fontSize:fs,fontFamily:FONT,color:'#000',lineHeight:lh},
            s:{fontSize:Math.round(fs*0.72),fontFamily:FONT,color:'#000',verticalAlign:'bottom',lineHeight:Math.round(fs*0.72)}}}};
}
const legends=[
  mkLegend(['b0','b1','b2','b3','b4'],LEG_B,530,41,17,21,2,21),
  mkLegend(['e0','e1','e2','e3','e4'],LEG_E,240,667,16,19,1,15),
  mkLegend(['h0','h1','h2','h3','h4'],LEG_H,557,968,16,19,1,19),
  mkLegend(['a10','a11','a12'],LEG_A1,239,33,9,12,0.5,10,1.5)
];

function T(text,x,y,size,extra){
  return Object.assign({type:'text',x:x,y:y,silent:true,z:10,
    style:{text:text,fill:'#000',font:size+'px '+FONT,textAlign:'center',textVerticalAlign:'middle',align:'center',verticalAlign:'middle'}},extra||{});
}
const TPOS=[[199,13],[524,13],[218,307],[534,310],[199,605],[534,605],[207,903],[521,905],[214,1203],[537,1205]];
const gfx=TITLES.map((t,i)=>T(t,TPOS[i][0],TPOS[i][1],19));
gfx.push(T(Y_TITLE,22,738,30,{rotation:Math.PI/2}));
gfx.push(T(X_TITLE,222,1520,23));
gfx.push(T(X_TITLE,551,1520,23));
gfx.push(T(SPIN_DOWN,184,954,17)); gfx.push(T(SPIN_UP,150,987,17));
gfx.push(T(SPIN_DOWN,506,1241,17)); gfx.push(T(SPIN_UP,470,1269,17));

const chart=echarts.init(document.getElementById('c'),null,{renderer:'canvas'});
chart.setOption({animation:false,backgroundColor:'#fff',grid:grids,xAxis:xAxes,yAxis:yAxes,series:series,legend:legends,graphic:{elements:gfx}});
</script></body></html>
